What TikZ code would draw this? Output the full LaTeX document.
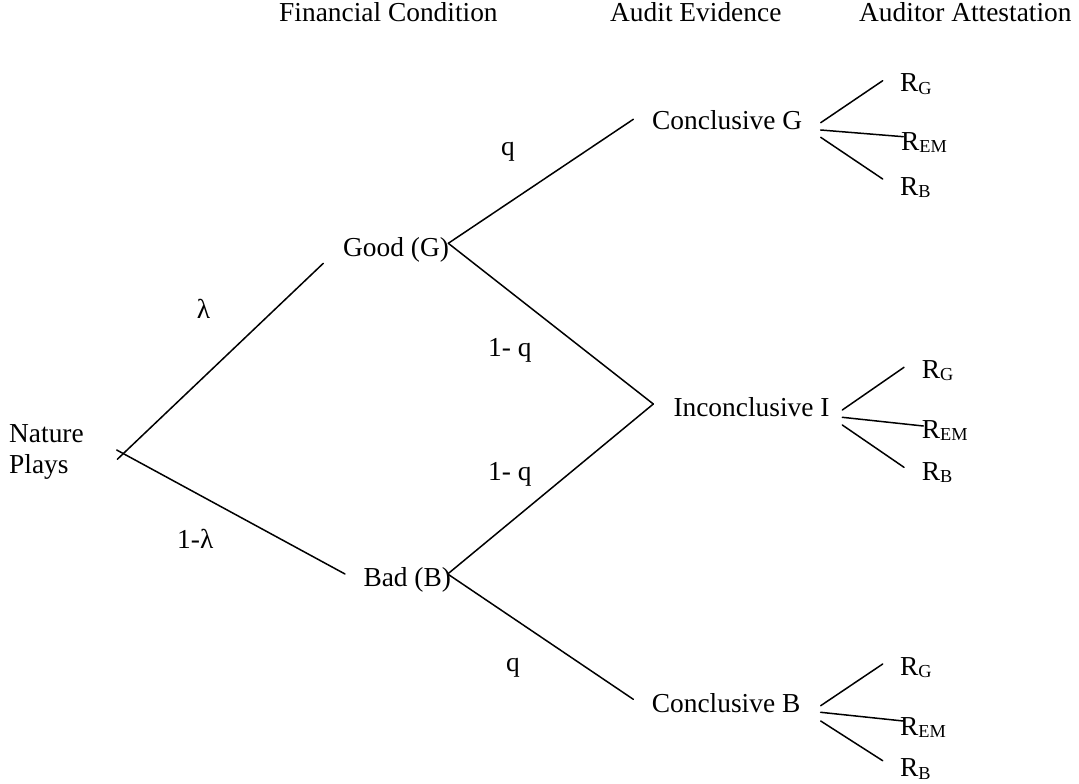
\documentclass[tikz,border=0pt]{standalone}
\usepackage{fontspec}
\setmainfont{Liberation Serif}
\newcommand{\Rsb}[1]{R\raisebox{-2.5pt}{\fontsize{18.3}{18}\selectfont #1}}
\begin{document}
\begin{tikzpicture}[x=1pt,y=-1pt,
  lbl/.style={inner sep=0pt, anchor=base west, font=\fontsize{27.4}{31.5}\selectfont},
  edge/.style={line width=1.5pt, line cap=round}]
\useasboundingbox (0,0) rectangle (1079,784);
% headers
\node[lbl] (hfin) at (279,22) {Financial Condition};
\node[lbl] (haud) at (610,22) {Audit Evidence};
\node[lbl] (hatt) at (859,22) {Auditor Attestation};
% root
\node[lbl] (nat1) at (9,442) {Nature};
\node[lbl] (nat2) at (9,473) {Plays};
% states
\node[lbl] (good) at (343,256) {Good (G)};
\node[lbl] (bad) at (363.3,586.7) {Bad (B)};
% evidence
\node[lbl] (cg) at (652,129.5) {Conclusive G};
\node[lbl] (inc) at (673.3,416) {Inconclusive I};
\node[lbl] (cb) at (651.7,712.7) {Conclusive B};
% probabilities
\node[lbl, anchor=base] (lam) at (203.5,318) {λ};
\node[lbl] (olam) at (177,548) {1-λ};
\node[lbl] (q1) at (501,155) {q};
\node[lbl] (oq1) at (488,356.7) {1- q};
\node[lbl] (oq2) at (488,480) {1- q};
\node[lbl] (q2) at (506,671) {q};
% attestations
\node[lbl] (rg1) at (900,91.7) {\Rsb{G}};
\node[lbl] (re1) at (901,150) {\Rsb{EM}};
\node[lbl] (rb1) at (900,195) {\Rsb{B}};
\node[lbl] (rg2) at (921.7,378.3) {\Rsb{G}};
\node[lbl] (re2) at (921.7,438.3) {\Rsb{EM}};
\node[lbl] (rb2) at (921.7,480) {\Rsb{B}};
\node[lbl] (rg3) at (900,675) {\Rsb{G}};
\node[lbl] (re3) at (900,735) {\Rsb{EM}};
\node[lbl] (rb3) at (900,776.7) {\Rsb{B}};
% connector end points
\coordinate (n1) at (117.3,459.3);
\coordinate (gL) at (323.3,263.3);
\coordinate (n2) at (116.7,450);
\coordinate (bL) at (345,574);
\coordinate (gR) at (448.3,243.3);
\coordinate (cgL) at (633.3,119.3);
\coordinate (iL) at (653.3,404);
\coordinate (bR) at (447.7,574);
\coordinate (cbL) at (633.3,699.3);
\coordinate (f1a) at (820.7,122.7); \coordinate (f1b) at (820.7,130); \coordinate (f1c) at (820.7,137.3);
\coordinate (e1a) at (882.7,80.7); \coordinate (e1b) at (903.3,136.7); \coordinate (e1c) at (882.7,179);
\coordinate (f2a) at (842.3,410); \coordinate (f2b) at (842.3,417.3); \coordinate (f2c) at (842.3,425);
\coordinate (e2a) at (904,367.3); \coordinate (e2b) at (923.3,426); \coordinate (e2c) at (904,467.3);
\coordinate (f3a) at (820.7,705.7); \coordinate (f3b) at (820.7,712.3); \coordinate (f3c) at (820.7,721);
\coordinate (e3a) at (882.7,664); \coordinate (e3b) at (903.3,721); \coordinate (e3c) at (882.7,760.7);
% connectors
\draw[edge] (n1) -- (gL);
\draw[edge] (n2) -- (bL);
\draw[edge] (gR) -- (cgL);
\draw[edge] (gR) -- (iL);
\draw[edge] (bR) -- (iL);
\draw[edge] (bR) -- (cbL);
\draw[edge] (f1a) -- (e1a); \draw[edge] (f1b) -- (e1b); \draw[edge] (f1c) -- (e1c);
\draw[edge] (f2a) -- (e2a); \draw[edge] (f2b) -- (e2b); \draw[edge] (f2c) -- (e2c);
\draw[edge] (f3a) -- (e3a); \draw[edge] (f3b) -- (e3b); \draw[edge] (f3c) -- (e3c);
\end{tikzpicture}
\end{document}
